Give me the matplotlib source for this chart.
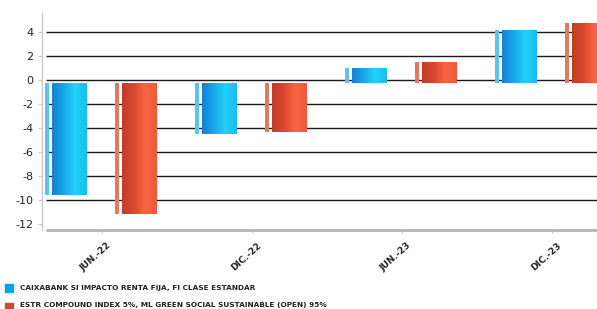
import numpy as np
import matplotlib
matplotlib.use("Agg")
import matplotlib.pyplot as plt
from matplotlib.colors import LinearSegmentedColormap
from matplotlib.transforms import ScaledTranslation

# datos
periodos = ["JUN.-22", "DIC.-22", "JUN.-23", "DIC.-23"]
fondo = [-9.6, -4.5, 1.0, 4.2]
indice = [-11.2, -4.3, 1.5, 4.8]
nombre_fondo = "CAIXABANK SI IMPACTO RENTA FIJA, FI CLASE ESTANDAR"
nombre_indice = "ESTR COMPOUND INDEX 5%, ML GREEN SOCIAL SUSTAINABLE (OPEN) 95%"
yticks = [-12, -10, -8, -6, -4, -2, 0, 2, 4]

W, H = 597, 309
BASE = -0.25
FUENTE = ["Liberation Sans Narrow", "DejaVu Sans"]

cmap_azul = LinearSegmentedColormap.from_list("azul", ["#1680d4", "#18a8e8", "#22d2fa", "#1cbcf0"])
cmap_rojo = LinearSegmentedColormap.from_list("rojo", ["#c03c26", "#d8482e", "#fa6444", "#ee5a3c"])
grad = np.linspace(0, 1, 64).reshape(1, -1)

fig = plt.figure(figsize=(W / 100, H / 100), dpi=100)
ax = fig.add_axes([42 / W, 1 - 230 / H, 1 - 42 / W, (230 - 13) / H])

x = np.arange(len(periodos))
off_azul = -0.30
off_rojo = 0.167
ancho = 0.233


def barra(xi, valor, cmap, tira):
    altura = valor - BASE
    # tira fina a la izquierda
    ax.bar(xi - 0.045, altura, width=0.022, bottom=BASE, align="edge",
           color=tira, zorder=3, linewidth=0)
    b = ax.bar(xi, altura, width=ancho, bottom=BASE, align="edge",
               color=cmap(0.5), zorder=3, linewidth=0)[0]
    y0, y1 = sorted([BASE, valor])
    im = ax.imshow(grad, extent=[xi, xi + ancho, y0, y1], cmap=cmap,
                   aspect="auto", zorder=4, interpolation="bilinear")
    im.set_clip_path(b)


for i in range(len(periodos)):
    barra(x[i] + off_azul, fondo[i], cmap_azul, "#5cc2f2")
    barra(x[i] + off_rojo, indice[i], cmap_rojo, "#e27a62")

xmin, xmax = -0.367, 3.333
ax.set_xlim(xmin, xmax)
ax.set_ylim(-12.5, 5.6)

# lineas de cuadricula
ax.hlines([v for v in yticks if v != -12], xmin + 0.027, xmax, color="#1a1a1a",
          linewidth=1.0, zorder=1)
ax.hlines(-12.5, xmin + 0.027, xmax, color="#b4b4b4", linewidth=2.0, zorder=2,
          clip_on=False)

for s in ["top", "right", "bottom"]:
    ax.spines[s].set_visible(False)
ax.spines["left"].set_color("#c8c8c8")
ax.spines["left"].set_linewidth(1.0)

ax.set_yticks(yticks)
ax.set_yticklabels([str(v) for v in yticks], fontsize=8, color="#222222")
ax.tick_params(axis="y", length=3, color="#c8c8c8", pad=3)

ax.set_xticks(x + 0.03)
ax.set_xticklabels(periodos, rotation=42, ha="right", va="top", rotation_mode="anchor",
                   fontsize=6.5, color="#222222", family=FUENTE, fontweight="bold")
ax.tick_params(axis="x", length=2, color="#c8c8c8", pad=6)
desplaza = ScaledTranslation(5 / 100, 0, fig.dpi_scale_trans)
for t in ax.get_xticklabels():
    t.set_transform(t.get_transform() + desplaza)

# leyenda
fig.patches.append(plt.Rectangle((5 / W, 1 - 292 / H), 8 / W, 8 / H,
                                 transform=fig.transFigure, color="#1a9be0"))
fig.text(20 / W, 1 - 288 / H, nombre_fondo, fontsize=5.3, family=FUENTE,
         va="center", color="#222222", fontweight="bold")
fig.patches.append(plt.Rectangle((5 / W, 1 - 311 / H), 8 / W, 8 / H,
                                 transform=fig.transFigure, color="#d04830"))
fig.text(20 / W, 1 - 305 / H, nombre_indice, fontsize=5.3, family=FUENTE,
         va="center", color="#222222", fontweight="bold")

fig.savefig("out.png", dpi=100)
